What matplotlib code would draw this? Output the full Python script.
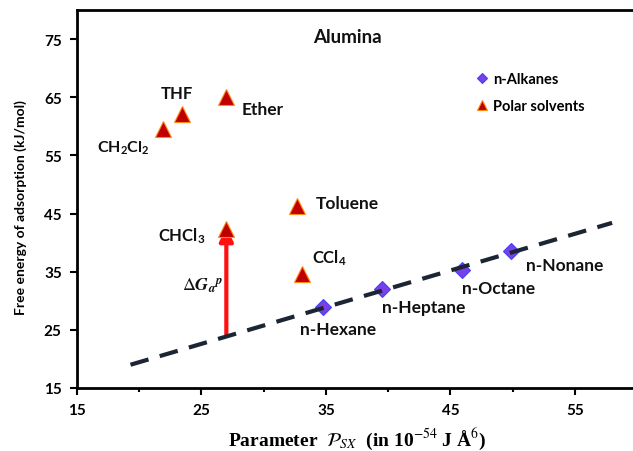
import matplotlib
matplotlib.use("Agg")
import matplotlib.pyplot as plt
from matplotlib.ticker import MultipleLocator

plt.rcParams['font.family'] = ['Lato', 'DejaVu Sans']
plt.rcParams['mathtext.fontset'] = 'custom'
plt.rcParams['mathtext.rm'] = 'Lato:bold'
plt.rcParams['mathtext.it'] = 'Lato:bold:italic'
plt.rcParams['mathtext.bf'] = 'Lato:bold'

# Data
polar_names = ["CH$_2$Cl$_2$", "THF", "Ether", "Toluene", "CHCl$_3$", "CCl$_4$"]
polar_x = [21.9, 23.4, 27.0, 32.7, 27.0, 33.1]
polar_y = [59.5, 62.1, 65.0, 46.3, 42.3, 34.6]

alk_names = ["n-Hexane", "n-Heptane", "n-Octane", "n-Nonane"]
alk_x = [34.8, 39.5, 45.9, 49.9]
alk_y = [29.0, 32.0, 35.3, 38.6]

fit_x = [19.3, 58.0]
fit_y = [19.0, 43.4]

arrow_x = 27.0
arrow_y0 = 24.2
arrow_y1 = 42.6

# label positions (data coords)
polar_lbl = [(16.6, 56.4), (21.7, 65.7), (28.2, 63.0), (34.2, 46.8), (21.5, 41.3), (33.9, 37.5)]
polar_fs = [11.5, 12, 12.5, 12.5, 12, 12]
alk_lbl = [(32.9, 25.2), (39.5, 29.0), (45.9, 32.2), (51.1, 36.2)]

fig = plt.figure(figsize=(6.33, 4.52), dpi=100)
ax = fig.add_axes([77/633, 1-389/452, 560/633, 378/452])

ax.plot(fit_x, fit_y, linestyle=(0, (4.5, 2.8)), color='#1c2533', lw=3.0, zorder=3)

ax.annotate('', xy=(arrow_x, arrow_y1), xytext=(arrow_x, arrow_y0),
            arrowprops=dict(arrowstyle='-|>,head_length=0.8,head_width=0.4', color='#ff1010', lw=3.0,
                            shrinkA=0, shrinkB=0), zorder=2)

ax.plot(alk_x, alk_y, linestyle='none', marker='D', markersize=8.5, markerfacecolor='#7b3fe6',
        markeredgecolor='#4040ff', markeredgewidth=0.8, label='n-Alkanes', zorder=2)
ax.plot(polar_x, polar_y, linestyle='none', marker='^', markersize=12, markerfacecolor='#c00000',
        markeredgecolor='#ff8a1a', markeredgewidth=0.8, label='Polar solvents', zorder=4)

for name, (lx, ly), fs in zip(polar_names, polar_lbl, polar_fs):
    ax.text(lx, ly, name, fontsize=fs, fontweight='bold', va='center', ha='left', color='#111111')
for name, (lx, ly) in zip(alk_names, alk_lbl):
    ax.text(lx, ly, name, fontsize=12.5, fontweight='bold', va='center', ha='left', color='#111111')

ax.text(23.4, 32.6, r'$\Delta \mathbfit{G}_{\mathbfit{a}}{}^{\mathbfit{p}}$', fontsize=13,
        va='center', ha='left', color='#111111', math_fontfamily='stix')
ax.text(34.0, 75.5, 'Alumina', fontsize=13.5, fontweight='bold', va='center', ha='left', color='#111111')

leg = ax.legend(loc='upper left', bbox_to_anchor=(0.685, 0.87), frameon=False, markerscale=0.6,
                handletextpad=0.1, labelspacing=0.9, handlelength=1.2,
                prop={'weight': 'bold', 'size': 10.5})

ax.set_xlim(15, 60)
ax.set_ylim(15, 80)
ax.xaxis.set_minor_locator(MultipleLocator(5))
ax.set_xticks([15, 25, 35, 45, 55])
ax.set_yticks([15, 25, 35, 45, 55, 65, 75])

for s in ['left', 'bottom', 'top']:
    ax.spines[s].set_linewidth(2.0)
ax.spines['right'].set_visible(False)
ax.tick_params(axis='both', which='major', direction='out', length=5, width=1.5, labelsize=11, pad=6)
ax.tick_params(axis='x', which='minor', direction='out', length=3, width=1.5)
for lab in ax.get_xticklabels() + ax.get_yticklabels():
    lab.set_fontweight('bold')

ax.set_ylabel('Free energy of adsorption (kJ/mol)', fontsize=10, fontweight='bold', labelpad=8)
ax.yaxis.set_label_coords(-0.09, 0.48)
ax.set_xlabel(r'Parameter  $\mathcal{P}_{SX}$  (in 10$^{-54}$ J Å$^6$)', fontsize=14,
              fontweight='bold', family=['Liberation Serif', 'DejaVu Serif'], labelpad=6,
              math_fontfamily='stix')

fig.savefig('out.png', dpi=100)
